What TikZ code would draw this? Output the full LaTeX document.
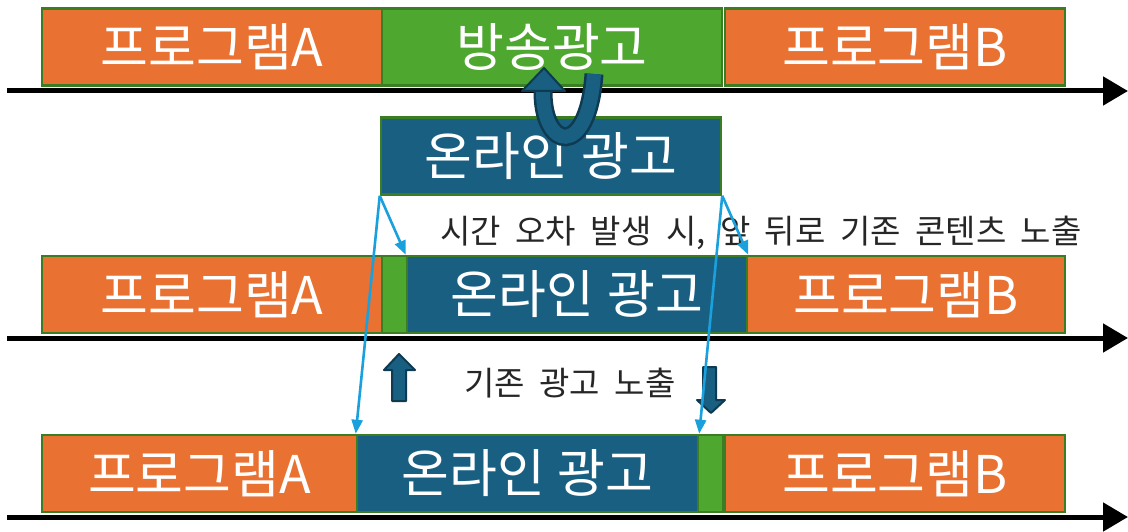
\documentclass[tikz,border=0pt]{standalone}
\usepackage{fontspec}
\newfontfamily\kr{Noto Sans CJK KR}
\usetikzlibrary{arrows.meta}
\definecolor{orng}{HTML}{E97132}
\definecolor{grn}{HTML}{4EA72E}
\definecolor{blu}{HTML}{185F82}
\definecolor{bord}{HTML}{3A7D22}
\definecolor{lblue}{HTML}{1AA0DC}
\definecolor{darkb}{HTML}{0E3A52}
\newcommand\myboxfont{\kr\fontsize{52}{54}\selectfont\setlength{\spaceskip}{13pt}}
\newcommand\mylblfont{\kr\fontsize{33}{35}\selectfont\setlength{\spaceskip}{14.5pt}}
\tikzset{
  box/.style={draw=bord, line width=2.5pt, minimum height=77pt, inner sep=0pt, text=white, font=\myboxfont},
  tline/.style={line width=5pt, -{Triangle[length=25pt,width=28pt]}},
  link/.style={lblue, line width=2.6pt, -{Triangle[length=14pt,width=11pt]}},
  lbl/.style={text=black!85, font=\mylblfont, inner sep=0pt},
  blockarr/.style={fill=blu, draw=darkb, line width=2pt, line join=round}
}
\begin{document}
\begin{tikzpicture}[x=1pt,y=-1pt]
\useasboundingbox (0,0) rectangle (1128,532);
% timelines
\coordinate (t1s) at (7,91); \coordinate (t1e) at (1128,91);
\coordinate (t2s) at (7,338); \coordinate (t2e) at (1128,338);
\coordinate (t3s) at (7,517); \coordinate (t3e) at (1128,517);
\draw[tline] (t1s) -- (t1e);
\draw[tline] (t2s) -- (t2e);
\draw[tline] (t3s) -- (t3e);
% row 1
\node[box, fill=orng, minimum width=340pt] (a1) at (212,47) {프로그램A};
\node[box, fill=grn, minimum width=340pt] (g1) at (552,47) {방송광고};
\node[box, fill=orng, minimum width=340pt] (b1) at (895,47) {프로그램B};
% online ad
\node[box, fill=blu, minimum width=340pt] (ol) at (551,156) {온라인 광고};
% row 2
\node[box, fill=orng, minimum width=340pt] (a2) at (212,294.5) {프로그램A};
\node[box, fill=grn, minimum width=25pt] (g2) at (394.5,294.5) {};
\node[box, fill=orng, minimum width=318pt] (b2) at (906,294.5) {프로그램B};
\node[box, fill=blu, minimum width=340pt] (o2) at (577,294.5) {온라인 광고};
% row 3
\node[box, fill=orng, minimum width=315pt] (a3) at (199.5,473.5) {프로그램A};
\node[box, fill=grn, minimum width=25pt] (g3) at (710.5,473.5) {};
\node[box, fill=orng, minimum width=340pt] (b3) at (895,473.5) {프로그램B};
\node[box, fill=blu, minimum width=341pt] (o3) at (527.5,473.5) {온라인 광고};
% U-turn arrow
\draw[darkb, line width=19pt] (594,74) .. controls (588,160) and (542,150) .. (543,90);
\draw[blu, line width=14pt] (594,74) .. controls (588,160) and (542,150) .. (543,90);
\fill[blockarr] (522,91) -- (544,68) -- (565,91) -- cycle;
% labels
\node[lbl] (l1) at (761,233) {시간 오차 발생 시, 앞 뒤로 기존 콘텐츠 노출};
\node[lbl] (l2) at (570,383) {기존 광고 노출};
% block arrows
\draw[blockarr] (392,401) -- (392,370) -- (384,370) -- (399,354) -- (415,370) -- (406,370) -- (406,401) -- cycle;
\draw[blockarr] (703,367) -- (716,367) -- (716,400) -- (725,400) -- (711,413) -- (697,400) -- (703,400) -- cycle;
% links
\draw[link] (ol.south west) -- (o2.north west);
\draw[link] (ol.south west) -- (o3.north west);
\draw[link] (ol.south east) -- (o2.north east);
\draw[link] (ol.south east) -- (o3.north east);
\end{tikzpicture}
\end{document}
